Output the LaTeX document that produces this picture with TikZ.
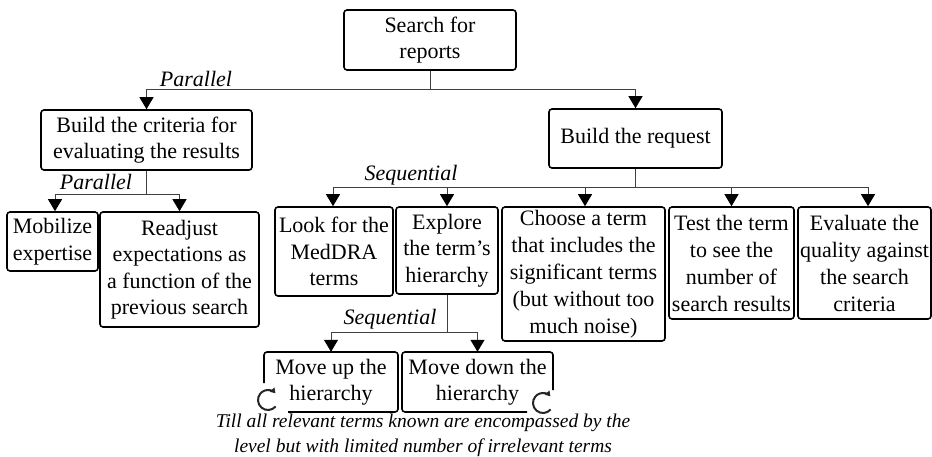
\documentclass[tikz,border=0pt]{standalone}
\usepackage{fontspec}
\setmainfont{Liberation Serif}
\usetikzlibrary{arrows.meta}
\begin{document}
\begin{tikzpicture}[x=1pt,y=-1pt,
  box/.style={draw=black, line width=1.6pt, rounded corners=3pt, align=center, inner sep=1pt,
    font=\fontsize{22}{26.5}\selectfont},
  openbox/.style={align=center, inner sep=1pt, font=\fontsize{22}{26.5}\selectfont},
  boxline/.style={draw=black, line width=1.6pt, rounded corners=3pt},
  conn/.style={draw=black!75, line width=1pt},
  arr/.style={conn, -{Triangle[length=12pt,width=14pt,fill=black,color=black]}},
  lbl/.style={font=\fontsize{22}{26}\selectfont\itshape, inner sep=0pt},
  note/.style={font=\fontsize{19.5}{25}\selectfont\itshape, inner sep=0pt, align=center},
  loop/.style={draw=black!85, line width=2pt, -{Triangle[length=5pt,width=6pt]}}
]
\useasboundingbox (0,0) rectangle (932,457);

% boxes
\node[box, minimum width=172pt, minimum height=60pt] (top) at (430,40) {Search for\\reports};
\node[box, minimum width=211pt, minimum height=60pt] (crit) at (146.5,140) {Build the criteria for\\evaluating the results};
\node[box, minimum width=173pt, minimum height=59pt] (req) at (635.5,138.5) {Build the request};
\node[box, minimum width=91pt, minimum height=59pt] (mob) at (52.5,241.5) {Mobilize\\expertise};
\node[box, minimum width=159pt, minimum height=115pt] (read) at (179.5,269.5) {Readjust\\expectations as\\a function of the\\previous search};
\node[box, minimum width=118pt, minimum height=89pt] (look) at (334,251.5) {Look for the\\MedDRA\\terms};
\node[box, minimum width=102pt, minimum height=87pt] (expl) at (447,250.5) {Explore\\the term’s\\hierarchy};
\node[box, minimum width=163pt, minimum height=134pt, font=\fontsize{22}{27}\selectfont] (choose) at (583.5,274) {Choose a term\\that includes the\\significant terms\\(but without too\\much noise)};
\node[box, minimum width=125pt, minimum height=112pt, font=\fontsize{22}{27}\selectfont] (test) at (731.5,263) {Test the term\\to see the\\number of\\search results};
\node[box, minimum width=133pt, minimum height=112pt, font=\fontsize{22}{27}\selectfont] (eval) at (864.5,263) {Evaluate the\\quality against\\the search\\criteria};
\node[openbox, minimum width=134pt, minimum height=60pt] (up) at (331,382) {Move up the\\hierarchy};
\node[openbox, minimum width=151pt, minimum height=60pt] (down) at (477.5,382) {Move down the\\hierarchy};

% open outlines of the last two boxes
\draw[boxline] (264,383) -- (264,352) -- (398,352) -- (398,412) -- (288,412);
\draw[boxline] (527,412) -- (402,412) -- (402,352) -- (553,352) -- (553,390);

% loop icons
\draw[loop] (268,400) ++(40:10) arc (40:318:10);
\draw[loop] (543,403) ++(40:10) arc (40:318:10);

% connectors
\coordinate (b1) at (430,90);
\draw[conn] (top.south) -- (b1);
\draw[arr] (b1) -| (crit.north);
\draw[arr] (b1) -| (req.north);

\coordinate (b2) at (146.5,195);
\draw[conn] (crit.south) -- (b2);
\draw[arr] (b2) -| ([xshift=2.5pt]mob.north);
\draw[arr] (b2) -| (read.north);

\coordinate (b3) at (635.5,188);
\draw[conn] (req.south) -- (b3);
\draw[arr] (b3) -| ([xshift=-1pt]look.north);
\draw[arr] (b3) -| (expl.north);
\draw[arr] (b3) -| ([xshift=1.5pt]choose.north);
\draw[arr] (b3) -| (test.north);
\draw[arr] (b3) -| ([xshift=3.5pt]eval.north);

\coordinate (b4) at (447,332);
\draw[conn] (expl.south) -- (b4);
\draw[arr] (b4) -| (up.north);
\draw[arr] (b4) -| (down.north);

% labels
\node[lbl] (p1) at (196,79) {Parallel};
\node[lbl] (p2) at (96,182) {Parallel};
\node[lbl] (s1) at (411,175) {Sequential};
\node[lbl] (s2) at (390,319) {Sequential};
\node[note] (till) at (423,435) {Till all relevant terms known are encompassed by the\\level but with limited number of irrelevant terms};
\end{tikzpicture}
\end{document}
